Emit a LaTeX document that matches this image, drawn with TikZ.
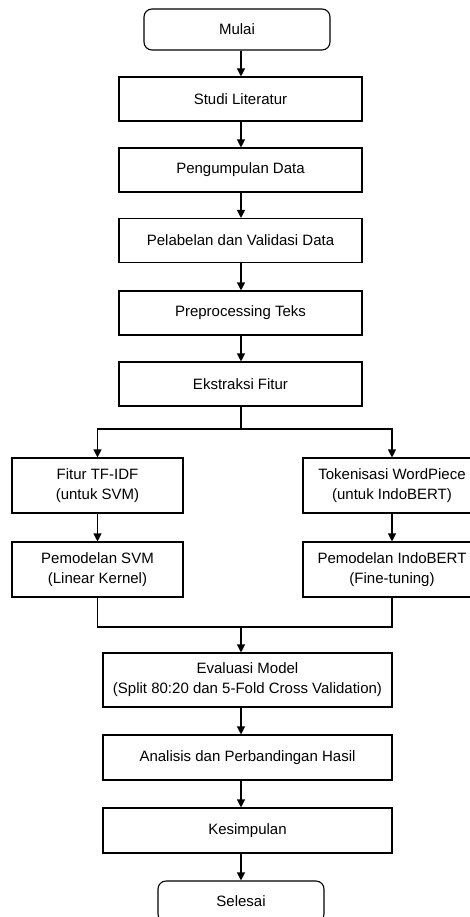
\documentclass[tikz,border=0pt]{standalone}
\usepackage{fontspec}
\setmainfont{Liberation Sans}
\usetikzlibrary{arrows.meta}
\begin{document}
\begin{tikzpicture}[x=1pt,y=1pt]
\tikzstyle{every node}+=[inner sep=0pt, font=\fontsize{15}{20}\selectfont, align=center]
\tikzstyle{box}=[draw=black, line width=1.1pt, minimum height=44pt]
\tikzstyle{term}=[box, rounded corners=8pt, minimum height=41pt]
\tikzstyle{line}=[line width=1.1pt]
\tikzstyle{arr}=[line, -{Triangle[length=8pt,width=8pt]}]
\path [use as bounding box, clip] (0,0) rectangle (470,-917);
\fill [white] (0,0) rectangle (470,-917);
% main column
\coordinate (spine) at (241,0);
\node [term, minimum width=186] (mulai) at (237,-29.5) {Mulai};
\node [box, minimum width=243] (studi) at (240.5,-99) {Studi Literatur};
\node [box, minimum width=243] (kumpul) at (240.5,-170) {Pengumpulan Data};
\node [box, minimum width=243] (labeling) at (240.5,-240.5) {Pelabelan dan Validasi Data};
\node [box, minimum width=243] (prepro) at (240.5,-313) {Preprocessing Teks};
\node [box, minimum width=243] (fitur) at (240.5,-384) {Ekstraksi Fitur};
% two branches
\coordinate (cabang) at (241,-429);
\node [box, minimum width=171, minimum height=55] (tfidf) at (97.5,-485.5) {Fitur TF-IDF\\(untuk SVM)};
\node [box, minimum width=171, minimum height=55] (svm) at (97.5,-569.5) {Pemodelan SVM\\(Linear Kernel)};
\node [box, minimum width=178, minimum height=55] (wordpiece) at (392,-485.5) {Tokenisasi WordPiece\\(untuk IndoBERT)};
\node [box, minimum width=178, minimum height=55] (bert) at (392,-569.5) {Pemodelan IndoBERT\\(Fine-tuning)};
\coordinate (gabung) at (241,-627);
% evaluation and end
\node [box, minimum width=289, minimum height=54] (evaluasi) at (247.5,-680) {Evaluasi Model\\(Split 80:20 dan 5-Fold Cross Validation)};
\node [box, minimum width=289, minimum height=45] (analisis) at (247.5,-757.5) {Analisis dan Perbandingan Hasil};
\node [box, minimum width=289, minimum height=45] (simpul) at (247.5,-830.5) {Kesimpulan};
\node [term, minimum width=166] (selesai) at (241,-901.5) {Selesai};
% connectors
\foreach \a/\b in {mulai/studi, studi/kumpul, kumpul/labeling, labeling/prepro, prepro/fitur, evaluasi/analisis, analisis/simpul, simpul/selesai}
  \draw [arr] (\a.south -| spine) -- (\b.north -| spine);
\draw [line] (fitur.south -| spine) -- (cabang);
\draw [arr] (cabang) -| (tfidf.north);
\draw [arr] (cabang) -| (wordpiece.north);
\draw [arr] (tfidf) -- (svm);
\draw [arr] (wordpiece) -- (bert);
\draw [line] (svm.south) |- (gabung) -| (bert.south);
\draw [arr] (gabung) -- (evaluasi.north -| spine);
\end{tikzpicture}
\end{document}
